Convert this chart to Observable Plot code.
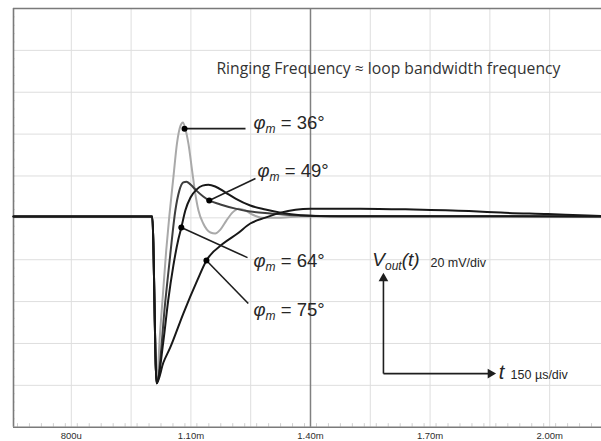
<!DOCTYPE html>
<html><head><meta charset="utf-8">
<script src="https://cdn.jsdelivr.net/npm/d3@7"></script>
<script src="https://cdn.jsdelivr.net/npm/@observablehq/plot@0.6"></script>
<style>html,body{margin:0;padding:0;background:#fff}svg{display:block}</style>
</head><body><div id="chart"></div>
<script>
// ---- data (time in µs, voltage in mV) ----
const stepTimes = [655, 1003, 1014];
const stepVolts = [0.6, 0.6, -79];

const pm36Times = [1023, 1038, 1046, 1056, 1065, 1074, 1080, 1086, 1094, 1103, 1111, 1119, 1131, 1149, 1161, 1174, 1189, 1204, 1219, 1237, 1254, 1279, 1325, 1375, 2130];
const pm36Volts = [-53.9, -15.7, 1.1, 19.2, 35.5, 44.1, 45.6, 42.6, 35.2, 22.6, 11.6, 3.5, -2.7, -7.0, -7.5, -5.6, -1.3, 2.5, 4.4, 3.5, 1.6, 0.1, 0.1, 0.6, 0.7];

const pm49Times = [1036, 1048, 1061, 1071, 1081, 1089, 1099, 1114, 1131, 1146, 1174, 1212, 1249, 1300, 1375, 1475, 2130];
const pm49Volts = [-39.5, -18.0, 3.5, 13.0, 16.9, 17.3, 15.9, 13.0, 10.2, 8.3, 6.4, 4.4, 3.0, 2.1, 1.1, 0.8, 0.7];

const pm64Times = [1031, 1043, 1056, 1069, 1076, 1086, 1099, 1114, 1129, 1144, 1161, 1187, 1212, 1249, 1287, 1325, 1375, 1450, 2130];
const pm64Volts = [-58.9, -39.5, -22.8, -9.9, -4.6, 3.5, 9.7, 13.5, 15.4, 15.8, 15.0, 12.1, 9.2, 5.9, 4.0, 2.5, 1.3, 0.8, 0.7];

const pm75Times = [1031, 1048, 1081, 1116, 1139, 1181, 1217, 1249, 1287, 1325, 1400, 1525, 1658, 1809, 1877, 1995, 2095, 2130];
const pm75Volts = [-69.1, -62.0, -45.7, -29.9, -20.4, -12.3, -7.5, -2.7, 0.1, 2.5, 4.4, 4.4, 4.0, 3.2, 2.5, 1.8, 1.1, 0.9];

const marginNames = ["36°", "49°", "64°", "75°"];
const dotTimes = [1084, 1146, 1076, 1139];
const dotVolts = [42.6, 8.3, -4.6, -20.4];
const pointerTimes = [1237, 1262, 1242, 1244];
const pointerVolts = [42.6, 18.8, -19.0, -40.9];
const labelTimes = [1257, 1267, 1257, 1257];
const labelVolts = [42.4, 19.3, -23.6, -46.7];

const tickValues = [800, 1100, 1400, 1700, 2000];
const tickLabels = ["800u", "1.10m", "1.40m", "1.70m", "2.00m"];
const gridTimes = [800, 950, 1100, 1250, 1400, 1550, 1700, 1850, 2000];
const gridVolts = [-80, -60, -40, -20, 0, 20, 40, 60, 80];
const centerTime = [1400];

const titleText = "Ringing Frequency ≈ loop bandwidth frequency";
const titlePos = {t: 1164, v: 68.5};
const voutText = "Vout(t)";
const voutPos = {t: 1555, v: -22.8};
const vScaleText = "20 mV/div";
const vScalePos = {t: 1701, v: -23.3};
const tText = "t";
const tPos = {t: 1872, v: -77.2};
const tScaleText = "150 µs/div";
const tScalePos = {t: 1902, v: -77.2};
const arrowOrigin = {t: 1583, v: -74.4};
const arrowUpTip = {t: 1583, v: -27.5};
const arrowRightTip = {t: 1859, v: -74.4};

// ---- build tables ----
function build(times, volts) {
  return stepTimes.concat(times).map((t, i) => ({t, v: stepVolts.concat(volts)[i]}));
}
const s36 = build(pm36Times, pm36Volts);
const s49 = build(pm49Times, pm49Volts);
const s64 = build(pm64Times, pm64Volts);
const s75 = build(pm75Times, pm75Volts);
const ann = marginNames.map((n, i) => ({n, dt: dotTimes[i], dv: dotVolts[i], pt: pointerTimes[i], pv: pointerVolts[i], lt: labelTimes[i], lv: labelVolts[i]}));
const minorTimes = d3.range(665, 2130, 30);
const minorVolts = d3.range(-96, 100, 4);

const txtFont = "Liberation Sans, Arial, sans-serif";
const lineOpts = {x: "t", y: "v", strokeWidth: 2, curve: "monotone-x"};

const chart = Plot.plot({
  width: 601, height: 441,
  marginLeft: 13, marginRight: 0, marginTop: 8, marginBottom: 14.3,
  style: {fontFamily: txtFont, background: "#fff", overflow: "visible"},
  x: {domain: [655, 2130]},
  y: {domain: [-100, 100], axis: null},
  marks: [
    Plot.ruleX(gridTimes, {stroke: "#dedede", strokeWidth: 1}),
    Plot.ruleY(gridVolts, {stroke: "#dedede", strokeWidth: 1}),
    Plot.ruleX(minorTimes, {y1: -100, y2: -98.3, stroke: "#cfcfcf", strokeWidth: 1}),
    Plot.ruleY(minorVolts, {x1: 655, x2: 660, stroke: "#e2e2e2", strokeWidth: 1}),
    Plot.ruleX(centerTime, {stroke: "#808080", strokeWidth: 1.5}),
    Plot.ruleX([655], {stroke: "#7a7a7a", strokeWidth: 1.6}),
    Plot.ruleY([100, -100], {stroke: "#7a7a7a", strokeWidth: 1.6}),
    Plot.axisX({ticks: tickValues, tickFormat: d => tickLabels[tickValues.indexOf(d)], tickSize: 0, tickPadding: 5, fontSize: 9.5, fill: "#2e2e2e", stroke: null}),
    Plot.line(s36, {...lineOpts, stroke: "#a9a9a9"}),
    Plot.line(s49, {...lineOpts, stroke: "#3e3e3e"}),
    Plot.line(s64, {...lineOpts, stroke: "#181818"}),
    Plot.line(s75, {...lineOpts, stroke: "#181818"}),
    Plot.link(ann, {x1: "dt", y1: "dv", x2: "pt", y2: "pv", stroke: "#1e1e1e", strokeWidth: 1.6}),
    Plot.dot(ann, {x: "dt", y: "dv", r: 3, fill: "#000"}),
    Plot.text(ann, {x: "lt", y: "lv", text: d => "φm = " + d.n, textAnchor: "start", lineAnchor: "bottom", fontSize: 18.5, fill: "#262626"}),
    Plot.text([titleText], {x: titlePos.t, y: titlePos.v, text: d => d, textAnchor: "start", lineAnchor: "bottom", fontSize: 15.7, fill: "#333", fontFamily: "Open Sans, sans-serif"}),
    Plot.text([voutText], {x: voutPos.t, y: voutPos.v, text: d => d, textAnchor: "start", lineAnchor: "bottom", fontSize: 19, fill: "#262626"}),
    Plot.text([vScaleText], {x: vScalePos.t, y: vScalePos.v, text: d => d, textAnchor: "start", lineAnchor: "bottom", fontSize: 12.5, fill: "#262626"}),
    Plot.text([tText], {x: tPos.t, y: tPos.v, text: d => d, textAnchor: "start", lineAnchor: "bottom", fontSize: 20, fontStyle: "italic", fill: "#262626"}),
    Plot.text([tScaleText], {x: tScalePos.t, y: tScalePos.v, text: d => d, textAnchor: "start", lineAnchor: "bottom", fontSize: 12.5, fill: "#262626"}),
    Plot.link([arrowUpTip, arrowRightTip], {x1: () => arrowOrigin.t, y1: () => arrowOrigin.v, x2: "t", y2: "v", stroke: "#1e1e1e", strokeWidth: 1.6}),
    Plot.dot([arrowUpTip], {x: "t", y: "v", symbol: "triangle", r: 3.6, fill: "#1e1e1e", dy: 3}),
    Plot.dot([arrowRightTip], {x: "t", y: "v", symbol: "triangle", r: 3.6, fill: "#1e1e1e", rotate: 90, dx: -3})
  ]
});

// subscripts / italics as real text spans
const NS = "http://www.w3.org/2000/svg";
function span(parent, str, attrs) {
  const s = document.createElementNS(NS, "tspan");
  s.textContent = str;
  for (const k in attrs) s.setAttribute(k, attrs[k]);
  parent.appendChild(s);
}
chart.querySelectorAll("text").forEach(el => {
  const c = el.textContent;
  if (c.startsWith("φm = ")) {
    el.textContent = "";
    span(el, "φ", {"font-style": "italic"});
    span(el, "m", {"font-style": "italic", "font-size": "12", "dy": "4"});
    span(el, " = " + c.slice(5), {"dy": "-4"});
  } else if (c === voutText) {
    el.textContent = "";
    span(el, "V", {"font-style": "italic"});
    span(el, "out", {"font-style": "italic", "font-size": "12", "dy": "4"});
    span(el, "(t)", {"font-style": "italic", "dy": "-4"});
  }
});
document.getElementById("chart").appendChild(chart);
</script>
</body></html>
